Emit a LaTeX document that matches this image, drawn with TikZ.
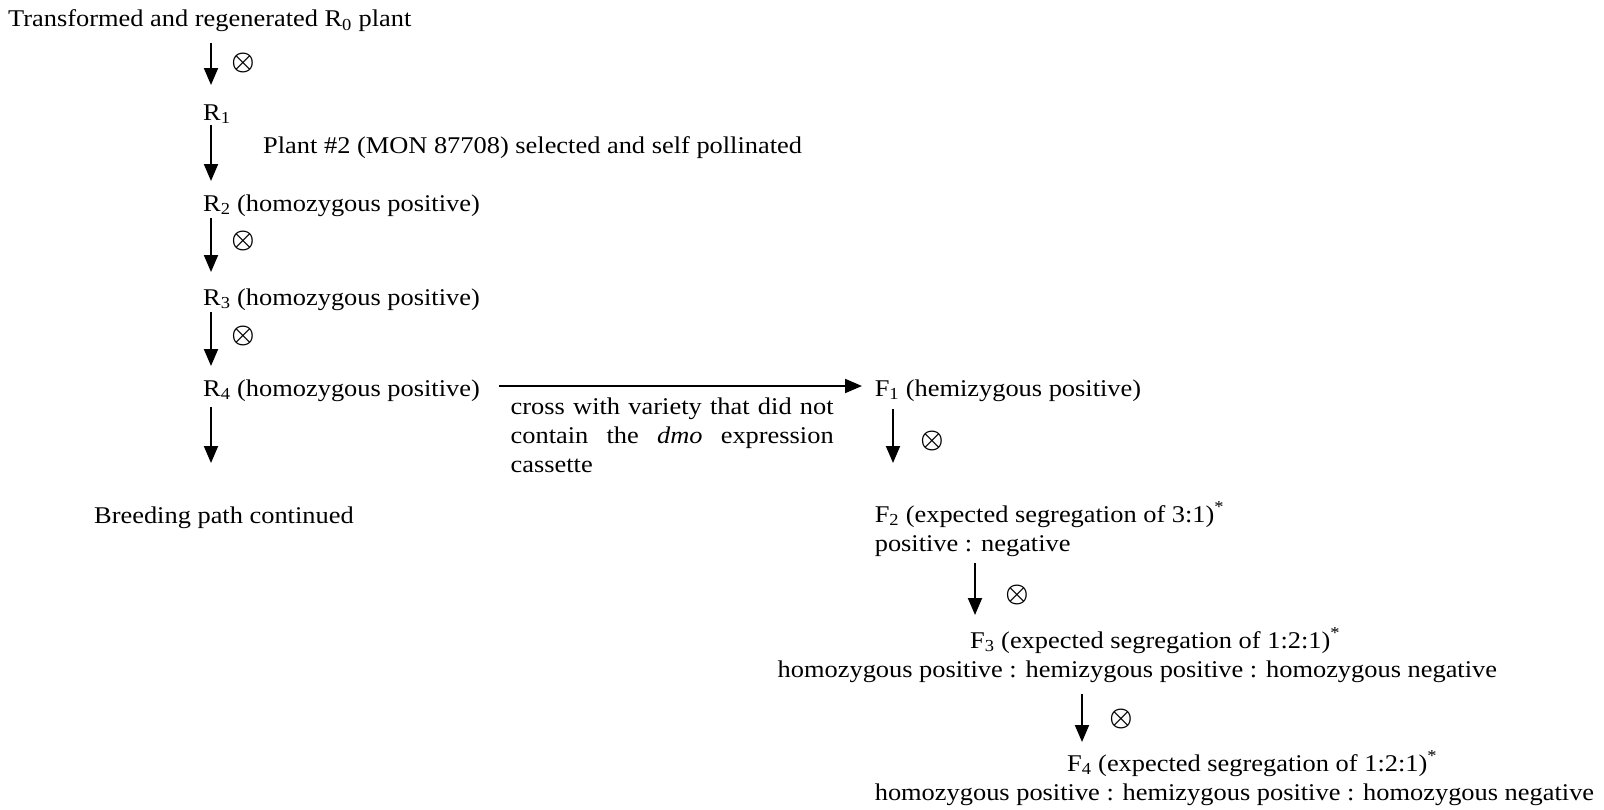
\documentclass[tikz,border=0pt]{standalone}
\usepackage{fontspec}
\usepackage{graphicx}
\setmainfont[FakeStretch=1.1]{Liberation Serif}
\usetikzlibrary{arrows.meta}
\newcommand{\selfx}{\scalebox{2.6}{\boldmath$\otimes$}}
\begin{document}
\begin{tikzpicture}[x=1pt,y=-1pt,
  txt/.style={anchor=base west,inner sep=0pt,font=\fontsize{24}{29}\selectfont},
  selfsym/.style={inner sep=0pt,font=\fontsize{10}{12}\selectfont},
  arr/.style={line width=1.9pt,-{Triangle[length=17pt,width=14pt]}}]
\useasboundingbox (0,0) rectangle (1604,809);
% texts
\node[txt] (R0) at (8,26.6) {Transformed and regenerated R\textsubscript{0} plant};
\node[txt] (R1) at (203,120) {R\textsubscript{1}};
\node[txt] (sel) at (263,153) {Plant \#2 (MON 87708) selected and self pollinated};
\node[txt] (R2) at (203,211) {R\textsubscript{2} (homozygous positive)};
\node[txt] (R3) at (203,305) {R\textsubscript{3} (homozygous positive)};
\node[txt] (R4) at (203,396) {R\textsubscript{4} (homozygous positive)};
\node[txt] (BP) at (94,523) {Breeding path continued};
\node[txt] (cross1) at (510.5,414) {\makebox[323pt][s]{cross with variety that did not}};
\node[txt] (cross2) at (510.5,443) {\makebox[323pt][s]{contain the \textit{dmo} expression}};
\node[txt] (cross3) at (510.5,472) {cassette};
\node[txt] (F1) at (874.6,396) {F\textsubscript{1} (hemizygous positive)};
\node[txt] (F2) at (874.6,522) {F\textsubscript{2} (expected segregation of 3:1)\textsuperscript{*}};
\node[txt] (F2b) at (874.6,551) {positive : negative};
\node[txt] (F3) at (970,648) {F\textsubscript{3} (expected segregation of 1:2:1)\textsuperscript{*}};
\node[txt] (F3b) at (777.5,677) {homozygous positive : hemizygous positive : homozygous negative};
\node[txt] (F4) at (1067,771) {F\textsubscript{4} (expected segregation of 1:2:1)\textsuperscript{*}};
\node[txt] (F4b) at (874.6,800) {homozygous positive : hemizygous positive : homozygous negative};
% self symbols
\node[selfsym] (s1) at (243,63.4) {\selfx};
\node[selfsym] (s3) at (243,241) {\selfx};
\node[selfsym] (s4) at (243,335.5) {\selfx};
\node[selfsym] (sf1) at (932,440.5) {\selfx};
\node[selfsym] (sf2) at (1017,595) {\selfx};
\node[selfsym] (sf3) at (1121,719) {\selfx};
% arrow end points
\coordinate (a1s) at (211,43);   \coordinate (a1e) at (211,85);
\coordinate (a2s) at (211,125);  \coordinate (a2e) at (211,181);
\coordinate (a3s) at (211,218);  \coordinate (a3e) at (211,272);
\coordinate (a4s) at (211,312);  \coordinate (a4e) at (211,366);
\coordinate (a5s) at (211,407);  \coordinate (a5e) at (211,463);
\coordinate (hs) at (499,386);   \coordinate (he) at (862,386);
\coordinate (b1s) at (893,409);  \coordinate (b1e) at (893,463);
\coordinate (b2s) at (975,563);  \coordinate (b2e) at (975,615);
\coordinate (b3s) at (1082,694); \coordinate (b3e) at (1082,742);
% arrows
\draw[arr] (a1s) -- (a1e);
\draw[arr] (a2s) -- (a2e);
\draw[arr] (a3s) -- (a3e);
\draw[arr] (a4s) -- (a4e);
\draw[arr] (a5s) -- (a5e);
\draw[arr] (hs) -- (he);
\draw[arr] (b1s) -- (b1e);
\draw[arr] (b2s) -- (b2e);
\draw[arr] (b3s) -- (b3e);
\end{tikzpicture}
\end{document}
